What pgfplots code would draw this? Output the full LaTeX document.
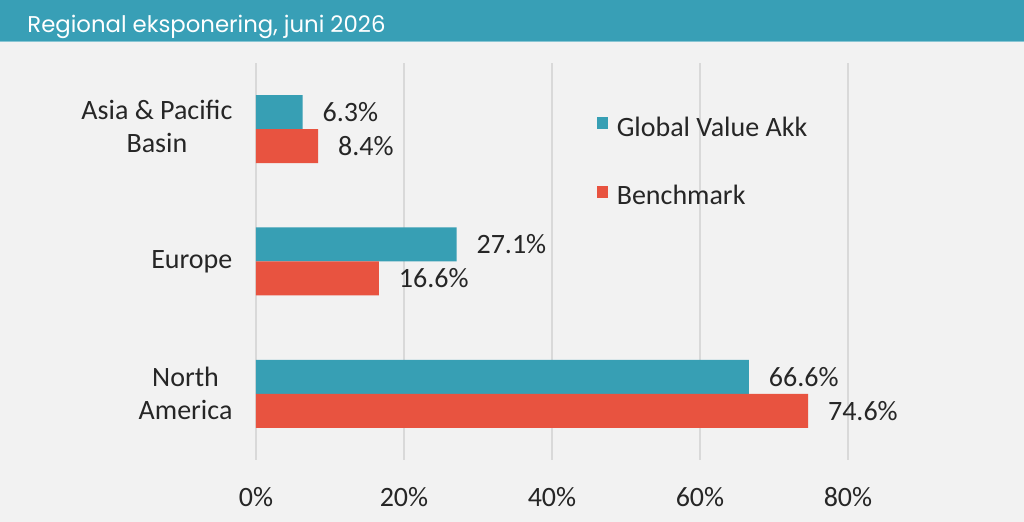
\documentclass[border=0pt]{standalone}
\usepackage{pgfplots}
\pgfplotsset{compat=1.18}
\usepackage{fontspec}
\setmainfont{Carlito}
\newfontfamily\titlefont{Poppins}
\definecolor{teal}{HTML}{379FB4}
\definecolor{redb}{HTML}{E85340}
\definecolor{bg}{HTML}{F2F2F2}
\definecolor{hdr}{HTML}{389FB6}
\definecolor{gridc}{HTML}{D9D9D9}
\definecolor{txt}{HTML}{262626}
\begin{document}
\begin{tikzpicture}
\useasboundingbox (0,0) rectangle (512pt,-261pt);
\fill[bg] (0,0) rectangle (512pt,-261pt);
\fill[hdr] (0,0) rectangle (512pt,-21pt);
\fill[hdr!60!white] (0,-20.5pt) rectangle (512pt,-21pt);
\node[anchor=base west,text=white,font=\titlefont\fontsize{11.4pt}{14pt}\selectfont,inner sep=0pt] at (13.5pt,-16.3pt) {Regional eksponering, juni 2026};
\begin{axis}[
  at={(128pt,-230pt)}, anchor=south west,
  scale only axis, width=296pt, height=198.5pt,
  /pgf/number format/assume math mode=true,
  xbar, bar width=17pt,
  xmin=0, xmax=80, ymin=-0.5, ymax=2.5,
  xtick={0,20,40,60,80},
  xticklabel={\pgfmathprintnumber{\tick}\%},
  ytick={0,1,2},
  yticklabels={North\\America, Europe, {\raisebox{2.5pt}{\begin{tabular}{@{}c@{}}Asia \& Pacific\\Basin\end{tabular}}}},
  yticklabel style={align=center, xshift=-4pt, font=\fontsize{14pt}{16.5pt}\selectfont, text=txt},
  xticklabel style={yshift=-10pt, font=\fontsize{14pt}{16.5pt}\selectfont, text=txt},
  axis line style={draw=none},
  tick style={draw=none},
  xmajorgrids, major grid style={gridc, line width=0.6pt},
  clip=false,
  nodes near coords={\pgfmathprintnumber[fixed,precision=1,fixed zerofill,assume math mode=true]{\pgfplotspointmeta}\%},
  nodes near coords align=horizontal,
  every node near coord/.append style={xshift=6.5pt, font=\fontsize{14pt}{16.5pt}\selectfont, text=txt},
  legend style={at={(0.575,0.865)}, anchor=north west, draw=none, fill=none,
    font=\fontsize{14pt}{16.5pt}\selectfont, text=txt, row sep=23pt, inner sep=0pt,
    nodes={inner xsep=4.5pt, inner ysep=0pt}},
  legend cell align=left,
  legend image code/.code={\fill[#1] (0pt,-0.5pt) rectangle (5.5pt,5.5pt);},
]
\addplot[fill=teal, draw=none, bar shift=8.5pt] coordinates {(66.6,0) (27.1,1) (6.3,2)};
\addlegendentry{Global Value Akk}
\addplot[fill=redb, draw=none, bar shift=-8.5pt] coordinates {(74.6,0) (16.6,1) (8.4,2)};
\addlegendentry{Benchmark}
\end{axis}
\end{tikzpicture}
\end{document}
